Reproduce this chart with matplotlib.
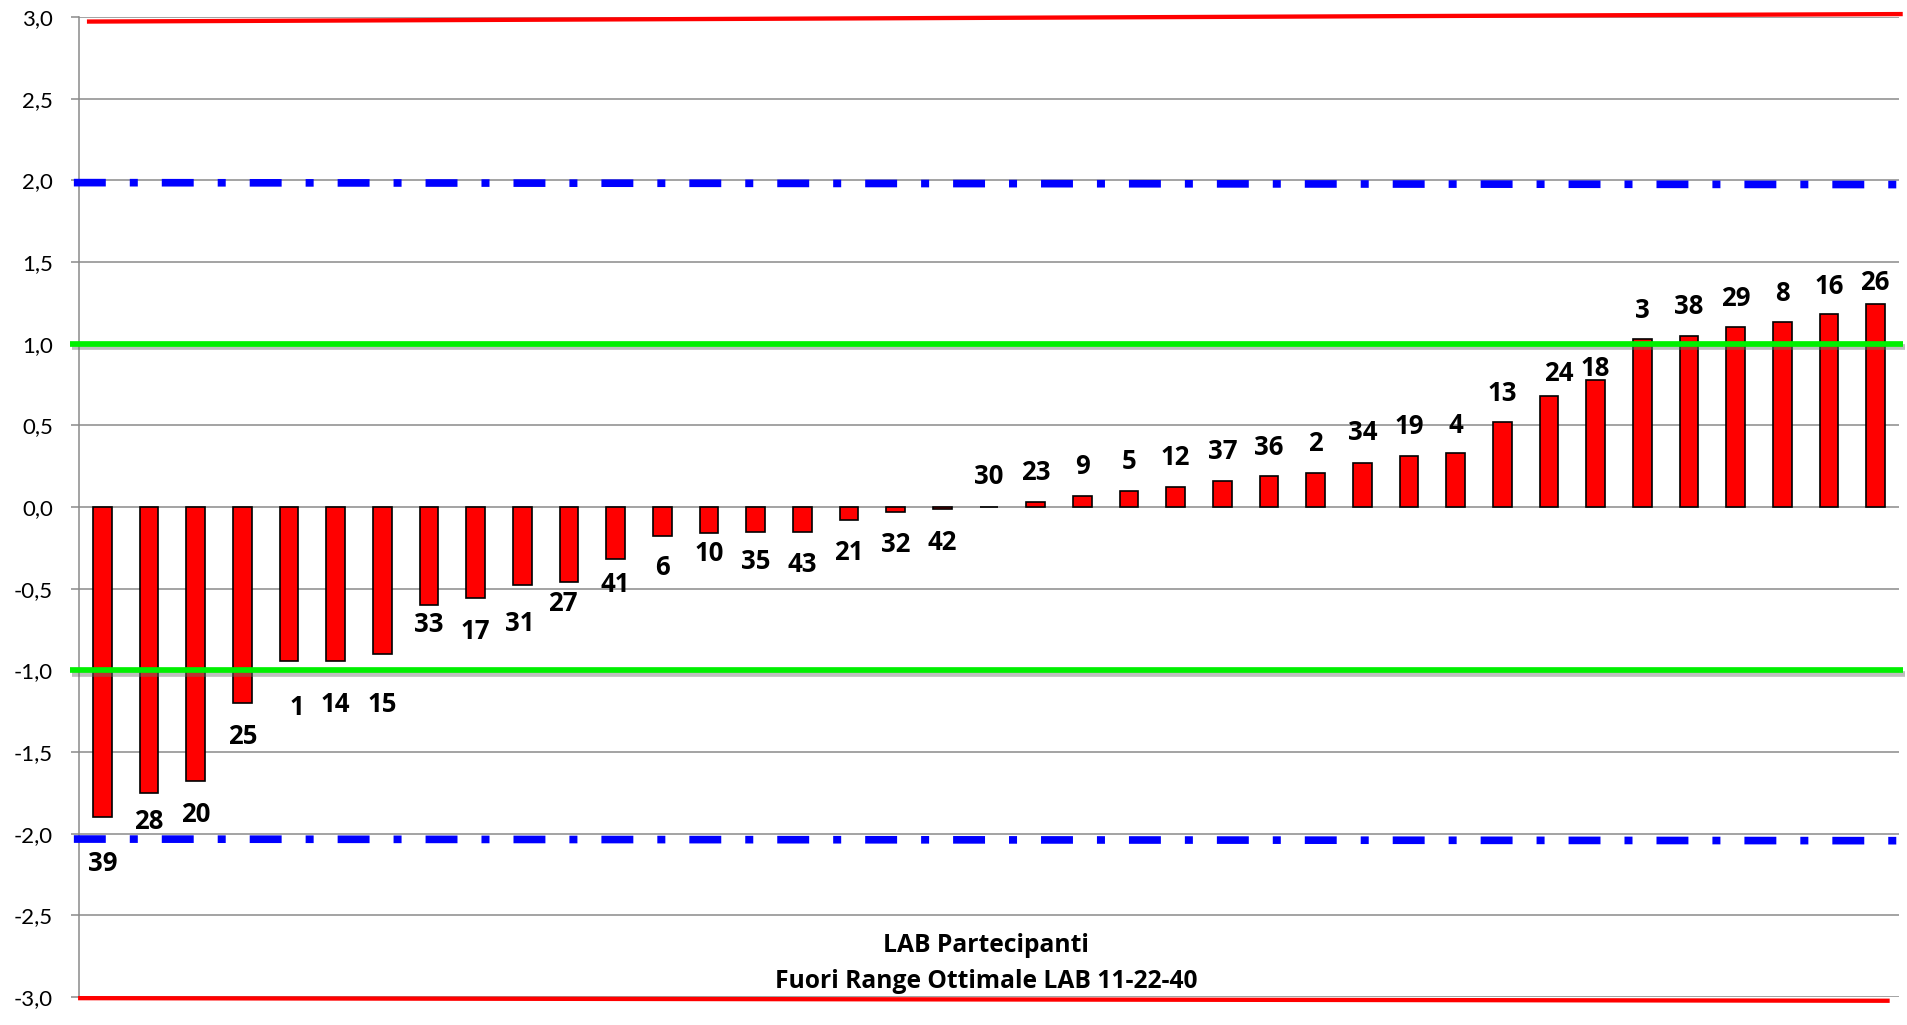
import matplotlib
matplotlib.use("Agg")
import matplotlib.pyplot as plt
import matplotlib.patheffects as pe
from matplotlib.ticker import FixedLocator, FuncFormatter
import numpy as np

plt.rcParams["font.family"] = ["Lato", "DejaVu Sans"]
BOLD_FAMILY = ["Open Sans", "DejaVu Sans"]

# Participating labs, sorted by z-score
labs = ["39", "28", "20", "25", "1", "14", "15", "33", "17", "31", "27", "41", "6",
        "10", "35", "43", "21", "32", "42", "30", "23", "9", "5", "12", "37", "36",
        "2", "34", "19", "4", "13", "24", "18", "3", "38", "29", "8", "16", "26"]
z_scores = [-1.90, -1.75, -1.68, -1.20, -0.94, -0.94, -0.90, -0.60, -0.56, -0.48,
            -0.46, -0.32, -0.18, -0.16, -0.155, -0.15, -0.08, -0.03, -0.015, 0.0,
            0.033, 0.07, 0.10, 0.12, 0.16, 0.19, 0.21, 0.27, 0.31, 0.33, 0.52, 0.68,
            0.78, 1.03, 1.05, 1.10, 1.13, 1.18, 1.24]

# Vertical placement of each lab label relative to its bar end (pixels, up = positive)
label_dy_px = [-46, -29, -33, -33, -47, -44, -50, -20, -33, -38, -21, -25, -31,
               -20, -29, -33, -32, -33, -33, 30, 29, 29, 29, 30, 29, 28, 29, 30,
               30, 28, 29, 22, 11, 28, 29, 29, 29, 28, 22]
label_dx_px = [0, 0, 0, 0, 8, 0, 0, 0, 0, -3, -6, 0, 0, 0, 0, 0, 0, 0, 0, 0, 0, 0, 0,
               0, 0, 0, 0, 0, 0, 0, 0, 10, 0, 0, 0, 0, 0, 0, -1]

y_ticks = [-3.0, -2.5, -2.0, -1.5, -1.0, -0.5, 0.0, 0.5, 1.0, 1.5, 2.0, 2.5, 3.0]

# Limit lines: (x ends, y ends) in data units
action_upper_x, action_upper_y = [-0.33, 38.58], [2.972, 3.018]
action_lower_x, action_lower_y = [-0.52, 38.30], [-3.007, -3.023]
warning_upper_x, warning_upper_y = [-0.61, 38.50], [1.986, 1.974]
warning_lower_x, warning_lower_y = [-0.61, 38.50], [-2.033, -2.043]
optimal_x = [-0.69, 38.58]
optimal_upper_y = [1.0, 1.0]
optimal_lower_y = [-1.0, -1.0]

xlabel_lines = ["LAB Partecipanti", "Fuori Range Ottimale LAB 11-22-40"]

DPI = 100
PX = 72.0 / DPI  # points per pixel

fig = plt.figure(figsize=(19.07, 10.25), dpi=DPI)
ax = fig.add_axes([79 / 1907, 28 / 1025, (1899 - 79) / 1907, 980 / 1025])

x = np.arange(len(labs))
ax.bar(x, z_scores, width=0.4, color="#FF0000", edgecolor="black",
       linewidth=1.2, zorder=3)

ax.set_xlim(-0.5, len(labs) - 0.5)
ax.set_ylim(-3, 3)
ax.set_xticks([])
ax.yaxis.set_major_locator(FixedLocator(y_ticks))
ax.yaxis.set_major_formatter(FuncFormatter(lambda v, _: f"{v:.1f}".replace(".", ",")))

grid_col = "#8a8a8a"
ax.grid(axis="y", color=grid_col, linewidth=1.1, zorder=0)
ax.set_axisbelow(True)
for s in ("top", "right", "bottom"):
    ax.spines[s].set_visible(False)
ax.spines["left"].set_color(grid_col)
ax.spines["left"].set_linewidth(1.1)
ax.tick_params(axis="y", length=8 * PX, width=1.1, color=grid_col, pad=13,
               labelsize=16, labelcolor="black")

# Limit lines
ax.plot(action_upper_x, action_upper_y, color="#FF0000", lw=3.1, clip_on=False,
        zorder=4, solid_capstyle="butt")
ax.plot(action_lower_x, action_lower_y, color="#FF0000", lw=3.1, clip_on=False,
        zorder=4, solid_capstyle="butt")
dashdot = (0, (4.18, 3.14, 1.05, 3.14))
ax.plot(warning_upper_x, warning_upper_y, color="#0000FF", lw=5.5, ls=dashdot,
        clip_on=False, zorder=4, dash_capstyle="butt")
ax.plot(warning_lower_x, warning_lower_y, color="#0000FF", lw=5.5, ls=dashdot,
        clip_on=False, zorder=4, dash_capstyle="butt")
shadow = [pe.SimpleLineShadow(offset=(1.5, -2.5), shadow_color="#707070", alpha=0.45),
          pe.Normal()]
for yy in (optimal_upper_y, optimal_lower_y):
    ax.plot(optimal_x, yy, color="#00F000", lw=4.1, clip_on=False, zorder=5,
            solid_capstyle="butt", path_effects=shadow)

# Lab labels
for xi, v, lab, dy, dx in zip(x, z_scores, labs, label_dy_px, label_dx_px):
    ax.annotate(lab, (xi, v), xytext=(dx * PX, dy * PX), textcoords="offset points",
                ha="center", va="center", fontsize=18.5, fontweight="bold",
                family=BOLD_FAMILY, color="black", zorder=6, annotation_clip=False)

# Category axis title
fig.text(986 / 1907, 1 - 952 / 1025, xlabel_lines[0], ha="center", va="baseline",
         fontsize=17.7, fontweight="bold", family=BOLD_FAMILY)
fig.text(986 / 1907, 1 - 987.5 / 1025, xlabel_lines[1], ha="center", va="baseline",
         fontsize=17.7, fontweight="bold", family=BOLD_FAMILY)

fig.savefig("out.png", dpi=DPI, facecolor="white")
